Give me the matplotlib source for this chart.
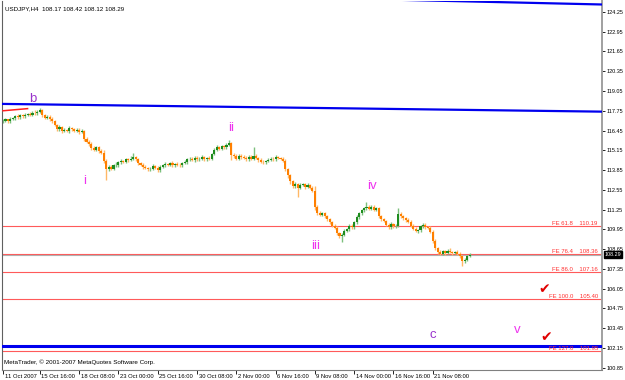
import numpy as np
import matplotlib
matplotlib.use('Agg')
import matplotlib.pyplot as plt
import matplotlib.transforms as mtransforms

# USDJPY H4 closes, one per bar
closes = [
    117.10, 117.18, 117.05, 117.20, 117.28, 117.40, 117.32, 117.45, 117.38, 117.50,
    117.55, 117.48, 117.62, 117.58, 117.70, 117.78, 117.45, 117.30, 117.35, 117.20,
    117.05, 116.80, 116.55, 116.65, 116.40, 116.50, 116.42, 116.60, 116.55, 116.45,
    116.50, 116.35, 116.40, 115.90, 115.70, 115.55, 115.30, 115.20, 115.35, 115.10,
    115.00, 114.45, 113.90, 114.05, 113.95, 114.15, 114.20, 114.35, 114.45, 114.40,
    114.55, 114.50, 114.60, 114.70, 114.55, 114.30, 114.20, 114.05, 114.00, 113.90,
    113.95, 114.10, 114.00, 113.85, 114.05, 114.15, 114.25, 114.20, 114.30, 114.15,
    114.25, 114.20, 114.15, 114.30, 114.40, 114.55, 114.60, 114.50, 114.65, 114.55,
    114.60, 114.70, 114.55, 114.65, 114.60, 114.90, 115.20, 115.35, 115.25, 115.40,
    115.35, 115.50, 115.60, 114.85, 114.75, 114.60, 114.80, 114.70, 114.65, 114.55,
    114.70, 114.60, 114.80, 114.65, 114.50, 114.40, 114.35, 114.45, 114.50, 114.60,
    114.55, 114.70, 114.65, 114.60, 114.45, 113.90, 113.50, 113.10, 112.80, 112.95,
    112.70, 112.85, 112.90, 112.75, 112.85, 112.70, 112.50, 111.40, 111.05, 110.90,
    111.00, 110.80, 110.60, 110.40, 110.20, 110.05, 109.70, 109.50, 109.60, 109.85,
    109.95, 110.20, 110.10, 110.40, 110.75, 111.00, 111.20, 111.35, 111.40, 111.30,
    111.45, 111.25, 111.35, 110.80, 110.60, 110.50, 110.25, 110.10, 110.30, 110.15,
    110.20, 110.95, 110.80, 110.70, 110.55, 110.45, 110.20, 110.00, 109.85, 109.90,
    110.15, 110.25, 110.10, 110.05, 109.80, 109.20, 108.70, 108.45, 108.35, 108.50,
    108.40, 108.55, 108.45, 108.40, 108.45, 108.35, 108.20, 107.85, 107.95, 108.17,
    108.29,
]
first_open = 117.05

wick_up = [
    .08, .10, .06, .12, .08, .10, .15, .08, .10, .12,
    .08, .12, .10, .15, .10, .16, .10, .08, .12, .10,
    .12, .08, .10, .15, .12, .10, .08, .12, .10, .08,
    .12, .10, .15, .08, .12, .10, .15, .12, .10, .08,
    .12, .15, .10, .15, .12, .10, .15, .12, .10, .08,
    .12, .10, .15, .27, .10, .12, .08, .10, .12, .08,
    .10, .12, .08, .10, .15, .10, .12, .08, .10, .12,
    .08, .10, .12, .10, .08, .12, .10, .08, .12, .10,
    .08, .12, .10, .08, .12, .10, .08, .12, .10, .12,
    .10, .12, .23, .10, .12, .15, .10, .08, .12, .10,
    .12, .15, .55, .10, .08, .12, .10, .08, .12, .10,
    .08, .12, .10, .08, .10, .12, .10, .08, .12, .10,
    .08, .12, .10, .08, .12, .10, .08, .30, .12, .10,
    .12, .10, .08, .12, .10, .08, .12, .10, .08, .12,
    .10, .08, .12, .10, .15, .10, .12, .10, .37, .12,
    .10, .12, .08, .10, .12, .10, .08, .12, .10, .08,
    .10, .40, .12, .10, .08, .12, .10, .08, .12, .10,
    .08, .12, .10, .08, .10, .12, .10, .08, .12, .10,
    .08, .12, .15, .10, .08, .12, .10, .08, .12, .10,
    .13,
]
wick_dn = [
    .10, .08, .12, .10, .08, .15, .10, .08, .12, .10,
    .12, .10, .08, .12, .10, .08, .12, .10, .08, .12,
    .10, .08, .15, .10, .12, .08, .10, .12, .10, .08,
    .12, .10, .08, .12, .10, .15, .12, .08, .10, .12,
    .10, .12, .70, .10, .12, .08, .10, .12, .10, .08,
    .10, .12, .08, .10, .12, .10, .08, .12, .10, .08,
    .12, .10, .08, .12, .10, .08, .12, .10, .08, .12,
    .10, .08, .12, .10, .08, .12, .10, .08, .12, .10,
    .08, .12, .10, .08, .12, .10, .08, .12, .10, .08,
    .12, .10, .08, .35, .12, .10, .08, .12, .10, .08,
    .10, .12, .08, .10, .12, .10, .08, .12, .10, .08,
    .12, .10, .08, .12, .10, .12, .20, .15, .12, .10,
    .60, .10, .08, .12, .10, .08, .12, .20, .15, .10,
    .08, .12, .10, .08, .12, .10, .15, .10, .36, .12,
    .10, .08, .12, .10, .08, .12, .10, .08, .12, .10,
    .08, .12, .10, .08, .12, .10, .08, .12, .10, .08,
    .12, .10, .08, .12, .10, .08, .12, .10, .08, .12,
    .10, .08, .12, .10, .08, .12, .10, .12, .10, .08,
    .12, .10, .08, .12, .10, .08, .12, .30, .12, .10,
    .05,
]

date_labels = ['11 Oct 2007', '15 Oct 16:00', '18 Oct 08:00', '23 Oct 00:00',
               '25 Oct 16:00', '30 Oct 08:00', '2 Nov 00:00', '6 Nov 16:00',
               '9 Nov 08:00', '14 Nov 00:00', '16 Nov 16:00', '21 Nov 08:00']
date_bars = [0, 15, 31, 47, 63, 79, 95, 111, 127, 143, 159, 175]

price_ticks = [124.25, 122.95, 121.65, 120.35, 119.05, 117.75, 116.45, 115.15,
               113.85, 112.55, 111.25, 109.95, 108.65, 107.35, 106.05, 104.75,
               103.45, 102.15, 100.85]

fe_names = ['FE 61.8', 'FE 76.4', 'FE 86.0', 'FE 100.0', 'FE 127.0']
fe_levels = [110.19, 108.36, 107.16, 105.40, 101.95]
last_price = 108.29

# trend lines (bar, price) anchors
line_b = [(0, 118.20), (240, 117.70)]
line_top = [(174, 125.00), (244, 124.74)]
line_red = [(0, 117.75), (10, 117.89)]
line_c = 102.30

wave_names = ['b', 'i', 'ii', 'iii', 'iv', 'c', 'v']
wave_bars = [12.2, 33.4, 92.8, 127.4, 150.2, 175.0, 209.3]
wave_prices = [118.55, 113.15, 116.60, 108.85, 112.80, 103.00, 103.30]
wave_colors = ['#9933CC', '#EE33EE', '#EE33EE', '#EE33EE', '#EE33EE', '#9933CC', '#EE33EE']

check_bars = [220.5, 221.3]
check_prices = [106.0, 102.85]

plt.rcParams['font.family'] = ['Liberation Sans', 'DejaVu Sans']

fig = plt.figure(figsize=(6.25, 3.8), dpi=100)
fig.patch.set_facecolor('white')
ax = fig.add_axes([2 / 625, 10.5 / 380, 600 / 625, 368.5 / 380])
ax.set_xlim(-0.41, 243.9)
ax.set_ylim(100.73, 124.97)

closes = np.array(closes)
opens = np.concatenate([[first_open], closes[:-1]])
highs = np.maximum(opens, closes) + np.array(wick_up)
lows = np.minimum(opens, closes) - np.array(wick_dn)
x = np.arange(len(closes))
bull = closes >= opens

ax.vlines(x[bull], lows[bull], highs[bull], color='#7CC07C', lw=1.0, zorder=2)
ax.vlines(x[~bull], lows[~bull], highs[~bull], color='#FFB866', lw=1.0, zorder=2)
bodies = np.maximum(np.abs(closes - opens), 0.03)
ax.bar(x[bull], bodies[bull], bottom=np.minimum(opens, closes)[bull], width=0.85,
       color='#1E8C1E', lw=0, zorder=3)
ax.bar(x[~bull], bodies[~bull], bottom=np.minimum(opens, closes)[~bull], width=0.85,
       color='#FF7F00', lw=0, zorder=3)


def extend(pts, x0, x1):
    (xa, ya), (xb, yb) = pts
    k = (yb - ya) / (xb - xa)
    return [x0, x1], [ya + k * (x0 - xa), ya + k * (x1 - xa)]


xs, ys = extend(line_b, -2, 250)
ax.plot(xs, ys, color='#0000EE', lw=1.6, zorder=4)
xs, ys = extend(line_top, -2, 250)
ax.plot(xs, ys, color='#0000EE', lw=1.6, zorder=4)
ax.plot([p[0] for p in line_red], [p[1] for p in line_red], color='#FF2020', lw=1.1, zorder=4)

for name, lev in zip(fe_names, fe_levels):
    ax.axhline(lev, color='#FF5A5A', lw=0.8, zorder=1)
    ax.text(0.993, lev, name + '    ' + '%.2f' % lev, color='#FF3030', fontsize=4.3,
            ha='right', va='bottom', transform=ax.get_yaxis_transform(), zorder=5)
ax.axhline(line_c, color='#0000EE', lw=2.2, zorder=4)
ax.axhline(last_price, color='#B0B0B0', lw=0.8, zorder=1)

for name, bx, py, col in zip(wave_names, wave_bars, wave_prices, wave_colors):
    ax.text(bx, py, name, color=col, fontsize=9.5, ha='center', va='center', zorder=6)
for bx, py in zip(check_bars, check_prices):
    ax.text(bx, py, '\u2714', color='#E00000', fontsize=10, ha='center', va='center',
            family=['DejaVu Sans'], zorder=6)

ax.text(0.005, 0.985, 'USDJPY,H4  108.17 108.42 108.12 108.29', transform=ax.transAxes,
        fontsize=4.5, ha='left', va='top')
ax.text(0.004, 0.012, 'MetaTrader, \u00a9 2001-2007 MetaQuotes Software Corp.',
        transform=ax.transAxes, fontsize=4.5, ha='left', va='bottom')

# current price box on the price scale
ax.text(1.004, last_price, '%.2f' % last_price, transform=ax.get_yaxis_transform(),
        color='white', fontsize=3.9, ha='left', va='center', clip_on=False,
        bbox=dict(boxstyle='square,pad=0.12', fc='black', ec='black'), zorder=7)

ax.yaxis.tick_right()
ax.set_yticks(price_ticks)
ax.set_yticklabels(['%.2f' % v for v in price_ticks])
ax.tick_params(axis='y', direction='out', length=2, width=0.6, pad=1, labelsize=4.0)
ax.set_xticks(date_bars)
ax.set_xticklabels(date_labels)
ax.tick_params(axis='x', direction='out', length=3, width=0.6, pad=0.5, labelsize=4.2)
offset = mtransforms.ScaledTranslation(1.5 / 100, 0, fig.dpi_scale_trans)
for lbl in ax.get_xticklabels():
    lbl.set_horizontalalignment('left')
    lbl.set_transform(lbl.get_transform() + offset)

ax.spines['top'].set_visible(False)
ax.spines['left'].set_color('#606060')
ax.spines['left'].set_linewidth(0.8)
ax.spines['right'].set_color('#A0A0A0')
ax.spines['right'].set_linewidth(1.4)
ax.spines['bottom'].set_color('#808080')
ax.spines['bottom'].set_linewidth(0.8)

fig.savefig('out.png', dpi=100, facecolor='white')
